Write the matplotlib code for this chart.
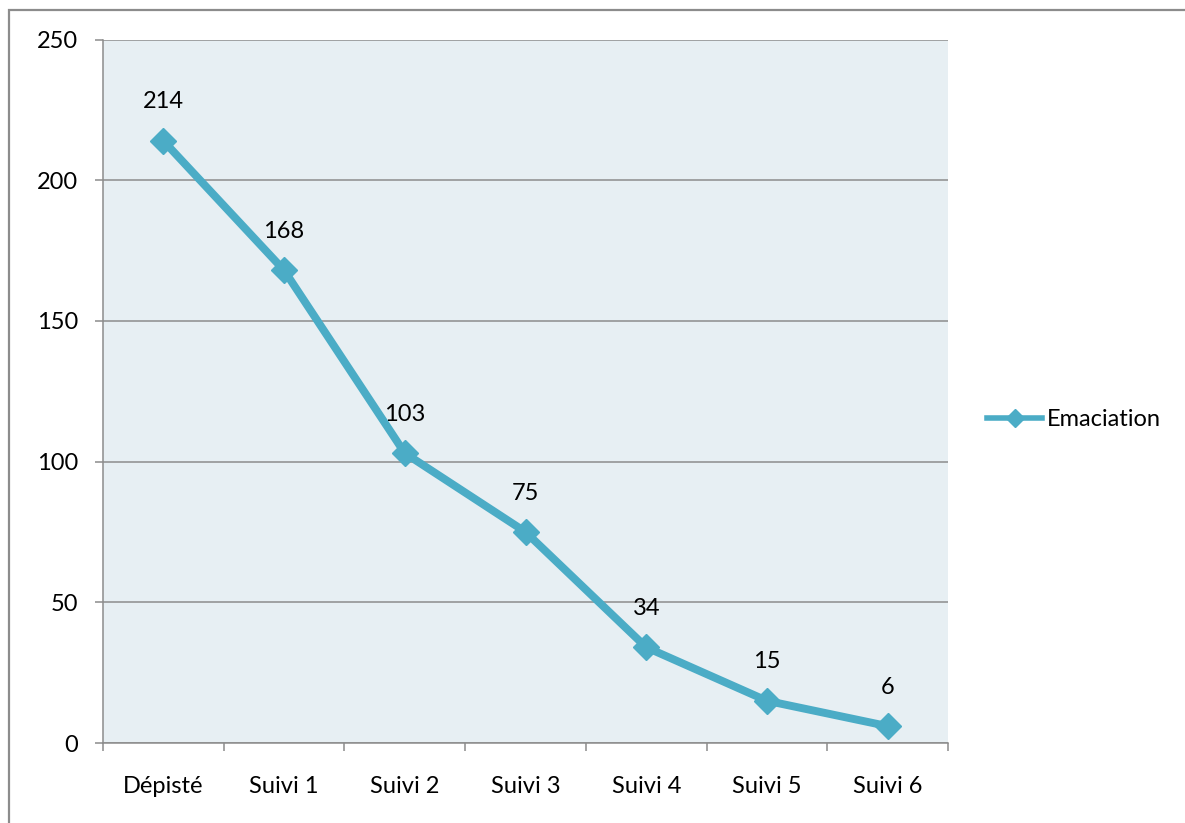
import matplotlib
matplotlib.use("Agg")
import matplotlib.pyplot as plt
from matplotlib.lines import Line2D
from matplotlib.patches import Rectangle
import numpy as np

plt.rcParams['font.family'] = ['Lato', 'DejaVu Sans']

categories = ["Dépisté", "Suivi 1", "Suivi 2", "Suivi 3", "Suivi 4", "Suivi 5", "Suivi 6"]
emaciation = [214, 168, 103, 75, 34, 15, 6]
y_ticks = [0, 50, 100, 150, 200, 250]
series_name = "Emaciation"

W, H = 1185, 823
fig = plt.figure(figsize=(W / 100, H / 100), dpi=100)
fig.patch.set_facecolor("white")

left, right, top, bottom = 103, 948, 39.5, 743
ax = fig.add_axes([left / W, 1 - bottom / H, (right - left) / W, (bottom - top) / H])
ax.set_facecolor("#E7EFF3")

line_color = "#4BACC6"
grid_color = "#8C8C8C"
fs = 17

x = np.arange(len(categories))
ax.plot(x, emaciation, color=line_color, lw=5.7, marker="D", markersize=13,
        solid_joinstyle="miter", zorder=3, clip_on=False)

for xi, v in zip(x, emaciation):
    ax.annotate(str(v), (xi, v), xytext=(0, 28), textcoords="offset points",
                ha="center", va="center", fontsize=fs, color="black")

ax.set_xlim(-0.5, len(categories) - 0.5)
ax.set_ylim(0, 250)
ax.set_yticks(y_ticks)
ax.set_yticklabels([str(t) for t in y_ticks], fontsize=fs)

# category boundaries carry the tick marks, labels sit at category centres
ax.set_xticks(np.arange(-0.5, len(categories)))
ax.set_xticklabels([])
ax.set_xticks(x, minor=True)
ax.set_xticklabels(categories, minor=True, fontsize=fs)
ax.tick_params(axis="x", which="major", length=6, width=1.1, color=grid_color, direction="out")
ax.tick_params(axis="x", which="minor", length=0, pad=24)
ax.tick_params(axis="y", length=6, width=1.1, color=grid_color, direction="out", pad=12)

ax.grid(axis="y", color=grid_color, lw=1.1)
ax.set_axisbelow(True)
for s in ["top", "right"]:
    ax.spines[s].set_visible(False)
for s in ["left", "bottom"]:
    ax.spines[s].set_color(grid_color)
    ax.spines[s].set_linewidth(1.1)

handle = Line2D([], [], color=line_color, lw=4, marker="D", markersize=9)
fig.legend([handle], [series_name], loc="center left",
           bbox_to_anchor=(987 / W, 1 - 420 / H), frameon=False, fontsize=fs,
           borderpad=0, borderaxespad=0, handlelength=2.35, handletextpad=0.2)

# outer chart border (runs off the right and bottom edges)
fig.patches.append(Rectangle((8.5 / W, -0.05), 1.2, 1 - 10 / H + 0.05,
                             transform=fig.transFigure, fill=False,
                             edgecolor="#8C8C8C", lw=1.6, clip_on=False))

fig.savefig("out.png", dpi=100)
